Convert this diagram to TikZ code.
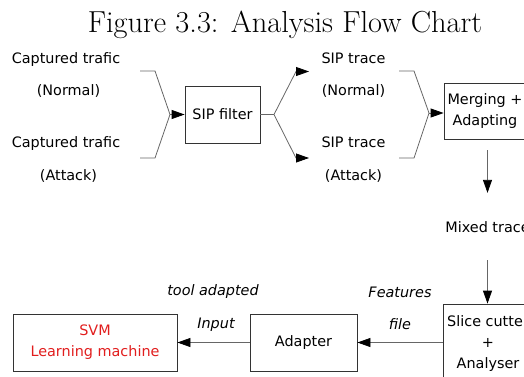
\documentclass[tikz,border=0pt]{standalone}
\usepackage{fontspec}
\setsansfont{DejaVu Sans}
\usetikzlibrary{arrows.meta}
\definecolor{svmred}{RGB}{225,30,30}
\tikzset{
	lbl/.style={font=\sffamily\fontsize{14.4}{21}\selectfont,inner sep=0pt,anchor=base},
	itlbl/.style={lbl,font=\sffamily\itshape\fontsize{14.4}{21}\selectfont},
	box/.style={draw=black!80,line width=0.8pt,font=\sffamily\fontsize{14.4}{21}\selectfont,align=center,inner sep=0pt},
	wire/.style={draw=black!60,line width=0.8pt},
	arrow/.style={wire,-{Triangle[length=13pt,width=9pt,black]}}
}

\begin{document}
\begin{tikzpicture}[x=1pt,y=-1pt]
		\useasboundingbox (0,0) rectangle (524,376);
		\node[anchor=base,inner sep=0pt,font=\fontsize{30.4}{36}\selectfont] (title) at (285,32) {Figure 3.3: Analysis Flow Chart};

		\node[lbl] (cap1) at (66,63) {Captured trafic};
		\node[lbl] (cap1b) at (68.5,95) {(Normal)};
		\node[lbl] (cap2) at (66,147) {Captured trafic};
		\node[lbl] (cap2b) at (68.5,180) {(Attack)};
		\node[box,minimum width=75pt,minimum height=57pt] (filter) at (222.5,114.5) {SIP filter};

		\node[lbl] (tr1) at (353.5,63) {SIP trace};
		\node[lbl] (tr1b) at (353.5,95) {(Normal)};
		\node[lbl] (tr2) at (353.5,147) {SIP trace};
		\node[lbl] (tr2b) at (353.5,180) {(Attack)};
		\node[box,minimum width=82pt,minimum height=56pt] (merge) at (485,111) {Merging +\\Adapting};

		\node[lbl,inner ysep=28pt] (mixed) at (487.5,232) {Mixed trace};
		\node[box,minimum width=90pt,minimum height=80pt] (slice) at (488,344) {Slice cutter\\+\\Analyser};
		\node[box,minimum width=107pt,minimum height=57pt] (adapter) at (303.5,342.5) {Adapter};
		\node[box,minimum width=164pt,minimum height=57pt,text=svmred] (svm) at (95,342.5) {SVM\\Learning machine};

		\node[itlbl] (feat) at (400,297) {Features};
		\node[itlbl] (featb) at (400,329) {file};
		\node[itlbl] (tool) at (213,295) {tool adapted};
		\node[itlbl] (toolb) at (216,328) {Input};

		\coordinate (in1) at (140,71);
		\coordinate (in2) at (140,158);
		\coordinate (j1) at (170,114.5);
		\foreach \c in {in1,in2}
			\draw[wire] (\c) -- ++(15,0) -- (j1);
		\draw[arrow] (j1) -- (filter.west);

		\coordinate (s1) at (274,114.5);
		\coordinate (out1) at (309,71.5);
		\coordinate (out2) at (309,158);
		\draw[wire] (filter.east) -- (s1);
		\foreach \c in {out1,out2}
			\draw[arrow] (s1) -- ([xshift=-13pt]\c) -- (\c);

		\coordinate (in3) at (399,71);
		\coordinate (in4) at (399,158);
		\coordinate (j2) at (429,113);
		\foreach \c in {in3,in4}
			\draw[wire] (\c) -- ++(15,0) -- (j2);
		\draw[arrow] (j2) -- (merge.west |- j2);

		\draw[arrow,shorten <=11pt] (merge.south -| mixed.north) -- (mixed.north);
		\draw[arrow] (mixed.south) -- (slice.north -| mixed.south);
		\draw[arrow] (slice.west |- adapter) -- (adapter.east);
		\draw[arrow] (adapter.west) -- (svm.east);
\end{tikzpicture}
\end{document}
